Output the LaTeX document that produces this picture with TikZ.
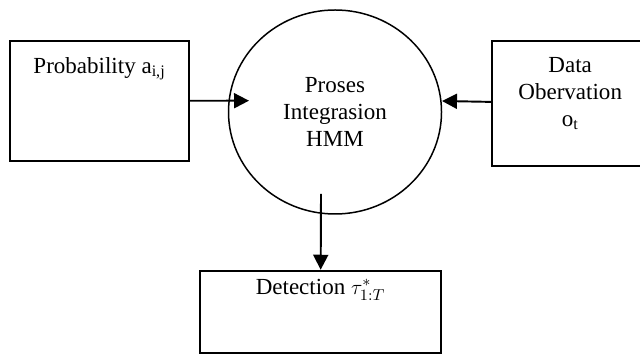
\documentclass[tikz,border=0pt]{standalone}
\usepackage{fontspec}
\setmainfont{Liberation Serif}
\usepackage{tikz}
\usetikzlibrary{arrows.meta}
\usetikzlibrary{graphs}
\usetikzlibrary{shapes,positioning}
\tikzstyle{arrow}=[arrows={-{Triangle[length=0.3cm,width=0.3cm]}}, line width=1.1pt]
\tikzset{
    block/.style={rectangle, draw, line width=1.1pt, inner sep=0pt},
    process/.style={ellipse, draw, line width=0.85pt, align=center, inner sep=0pt,
                    minimum width=4.26cm, minimum height=4.08cm},
    lbl/.style={anchor=north, yshift=#1, align=center},
    lbl/.default=-0.23cm
}
\begin{document}
\begin{tikzpicture}[new set=import nodes, font=\fontsize{13.1}{15.4}\selectfont]
 \useasboundingbox (0,0) rectangle (12.8,7.08);
 \clip (0,0) rectangle (12.8,7.08);
 \begin{scope}[nodes={set=import nodes}]

      \node (hmm)[process] at (6.7,4.84) {Proses\\Integrasion\\HMM};
      \node [block, left=0.76cm of hmm, yshift=0.223cm, minimum width=3.57cm, minimum height=2.406cm,
             label={[lbl]north:Probability a\textsubscript{i,j}}] (p_ij) {};
      \node [block, right=0.98cm of hmm, yshift=0.173cm, minimum width=3.12cm, minimum height=2.506cm,
             label={[lbl]north:Data\\Obervation\\o\textsubscript{t}}] (o_t) {};
      \node [block, below=1.1cm of hmm, xshift=-0.29cm, minimum width=4.82cm, minimum height=1.64cm,
             label={[lbl=-0.06cm]north:{Detection $\tau^{*}_{1:T}$}}] (tau) {};

      % arrow ends inside the circle
      \node (in_L)[coordinate] at (4.98,5.066) {};
      \node (in_R)[coordinate] at (8.84,5.06) {};
      \node (out_B)[coordinate] at (6.42,3.2) {};

  \end{scope}

 \graph {
    (import nodes);

    p_ij --[arrow] in_L,
    o_t --[arrow] in_R,
    out_B --[arrow] tau,

    };

\end{tikzpicture}
\end{document}
